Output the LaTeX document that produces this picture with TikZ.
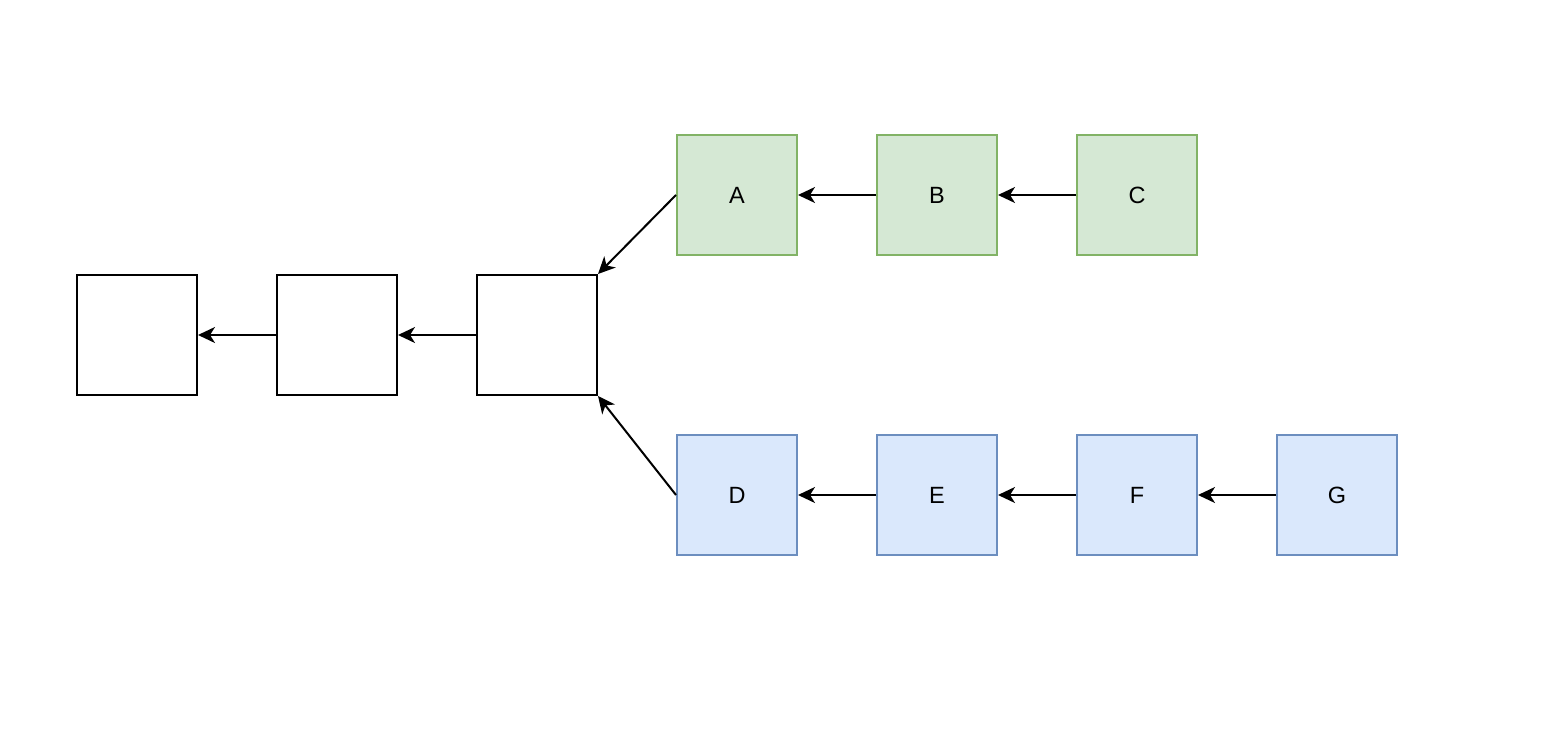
\documentclass[tikz,border=0pt]{standalone}
\usepackage{fontspec}
\setmainfont{Liberation Sans}
\usetikzlibrary{arrows.meta}
\definecolor{gfill}{HTML}{D5E8D4}
\definecolor{gline}{HTML}{82B366}
\definecolor{bfill}{HTML}{DAE8FC}
\definecolor{bline}{HTML}{6C8EBF}
\begin{document}
\begin{tikzpicture}[x=1pt,y=-1pt,
  box/.style={draw=black,line width=2pt,minimum width=120pt,minimum height=120pt,inner sep=0pt,font=\fontsize{23.5}{28}\selectfont},
  gbox/.style={box,draw=gline,fill=gfill},
  bbox/.style={box,draw=bline,fill=bfill},
  conn/.style={line width=2pt,-{Stealth[length=17pt,width=16pt,inset=5pt]}}]
\useasboundingbox (0,0) rectangle (1568,754);
\node[box] (w1) at (137,335) {};
\node[box] (w2) at (337,335) {};
\node[box] (w3) at (537,335) {};
\node[gbox] (A) at (737,195) {A};
\node[gbox] (B) at (937,195) {B};
\node[gbox] (C) at (1137,195) {C};
\node[bbox] (D) at (737,495) {D};
\node[bbox] (E) at (937,495) {E};
\node[bbox] (F) at (1137,495) {F};
\node[bbox] (G) at (1337,495) {G};
\draw[conn] (w2.west) -- (w1.east);
\draw[conn] (w3.west) -- (w2.east);
\draw[conn] (A.west) -- (w3.north east);
\draw[conn] (D.west) -- (w3.south east);
\draw[conn] (B.west) -- (A.east);
\draw[conn] (C.west) -- (B.east);
\draw[conn] (E.west) -- (D.east);
\draw[conn] (F.west) -- (E.east);
\draw[conn] (G.west) -- (F.east);
\end{tikzpicture}
\end{document}
